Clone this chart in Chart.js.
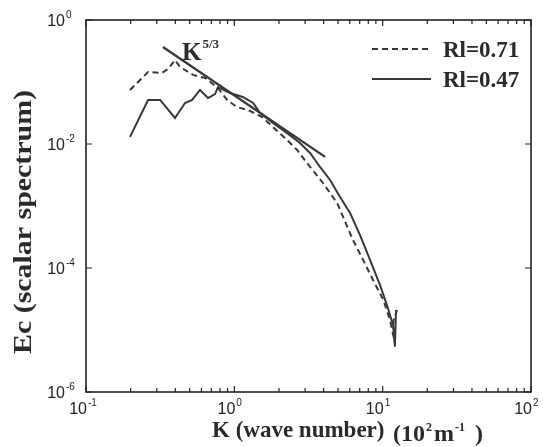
<!DOCTYPE html>
<html>
<head>
<meta charset="utf-8">
<script src="https://cdn.jsdelivr.net/npm/chart.js@4.4.1/dist/chart.umd.min.js"></script>
<style>
  html, body { margin: 0; padding: 0; background: #fff; }
  #wrap { width: 543px; height: 447px; position: relative; }
</style>
</head>
<body>
<div id="wrap"><canvas id="chart_spec"></canvas></div>
<script>
// wave number K (10^2 m^-1) and scalar spectrum Ec
const kDashed = [0.198, 0.262, 0.325, 0.357, 0.398, 0.43, 0.527, 0.635, 0.776, 0.893, 1.04, 1.24, 1.54, 1.82, 2.27, 2.65, 3.24, 3.96, 4.93, 6.31, 7.38, 8.61, 10.1, 11.2, 12.1, 11.8, 12.5];
const ecDashed = [0.0743, 0.145, 0.140, 0.162, 0.226, 0.175, 0.130, 0.116, 0.080, 0.0513, 0.0395, 0.0353, 0.0272, 0.0188, 0.0116, 0.0080, 0.00426, 0.00235, 0.00112, 2.83e-4, 1.35e-4, 6.4e-5, 3.05e-5, 1.45e-5, 6.2e-6, 1.4e-5, 2.1e-5];

const kSolid = [0.198, 0.262, 0.316, 0.398, 0.465, 0.519, 0.587, 0.665, 0.741, 0.776, 0.935, 1.14, 1.34, 1.49, 1.82, 2.27, 2.77, 3.24, 3.78, 4.42, 5.16, 6.03, 7.04, 8.22, 9.6, 10.7, 11.75, 12.1, 12.3];
const ecSolid = [0.0130, 0.0513, 0.0513, 0.0263, 0.0459, 0.0513, 0.0743, 0.0552, 0.064, 0.083, 0.0665, 0.0573, 0.0459, 0.0316, 0.0218, 0.0150, 0.0104, 0.00716, 0.00426, 0.00263, 0.0014, 7.7e-4, 3.4e-4, 1.35e-4, 5.3e-5, 2.5e-5, 1.2e-5, 5.4e-6, 2.1e-5];

// K^-5/3 reference line
const kRef = [0.33, 4.09];
const ecRef = [0.367, 0.0062];

const xTicks = [0.1, 1, 10, 100];
const xTickExp = ['-1', '0', '1', '2'];
const yTicks = [1, 1e-2, 1e-4, 1e-6];
const yTickExp = ['0', '-2', '-4', '-6'];

const seriesNames = ['Rl=0.71', 'Rl=0.47'];

const ink = '#383838';
const serif = '"Liberation Serif", "DejaVu Serif", serif';
const sans = '"Liberation Sans", Arial, sans-serif';

function pts(xs, ys) {
  return xs.map((x, i) => ({ x: x, y: ys[i] }));
}

function supText(ctx, base, exp, x, y, size, expSize, rise, align) {
  ctx.font = size;
  const wb = ctx.measureText(base).width;
  ctx.font = expSize;
  const we = ctx.measureText(exp).width;
  let x0 = x;
  if (align === 'right-base') x0 = x - wb;
  ctx.textAlign = 'left';
  ctx.textBaseline = 'alphabetic';
  ctx.font = size;
  ctx.fillText(base, x0, y);
  ctx.font = expSize;
  ctx.fillText(exp, x0 + wb + 1, y - rise);
  return x0 + wb + 1 + we;
}

const decorations = {
  id: 'decorations',
  afterDraw(chart) {
    const { ctx, chartArea: a, scales } = chart;
    const xs = scales.x, ys = scales.y;
    ctx.save();
    ctx.strokeStyle = '#222';
    ctx.fillStyle = '#222';

    // frame
    ctx.lineWidth = 1.6;
    ctx.strokeRect(a.left, a.top, a.right - a.left, a.bottom - a.top);

    // x ticks (inward, top and bottom)
    ctx.lineWidth = 1.2;
    for (let d = -1; d < 2; d++) {
      for (let m = 1; m <= 10; m++) {
        const v = m * Math.pow(10, d);
        if (m === 1 && d > -1) continue;
        const px = xs.getPixelForValue(v);
        const len = (m === 1 || m === 10) ? 6 : 4;
        ctx.beginPath();
        ctx.moveTo(px, a.bottom); ctx.lineTo(px, a.bottom - len);
        ctx.moveTo(px, a.top); ctx.lineTo(px, a.top + len);
        ctx.stroke();
      }
    }
    // y ticks (major only)
    yTicks.forEach(v => {
      const py = ys.getPixelForValue(v);
      ctx.beginPath();
      ctx.moveTo(a.left, py); ctx.lineTo(a.left + 6, py);
      ctx.moveTo(a.right, py); ctx.lineTo(a.right - 6, py);
      ctx.stroke();
    });

    // tick labels
    xTicks.forEach((v, i) => {
      const px = xs.getPixelForValue(v);
      supText(ctx, '10', xTickExp[i], px + 1, a.bottom + 22, '16px ' + sans, '10px ' + sans, 8, 'right-base');
    });
    yTicks.forEach((v, i) => {
      const py = ys.getPixelForValue(v);
      supText(ctx, '10', yTickExp[i], 65, py + 6, '16px ' + sans, '10px ' + sans, 8, 'right-base');
    });

    // axis titles
    ctx.fillStyle = '#2a2a2a';
    ctx.font = 'bold 23px ' + serif;
    ctx.textAlign = 'left';
    ctx.textBaseline = 'alphabetic';
    ctx.fillText('K (wave number)', 212, 437);
    let cx = supText(ctx, '(10', '2', 393, 441, 'bold 24px ' + serif, 'bold 12px ' + serif, 10, 'left');
    cx = supText(ctx, 'm', '-1', cx + 2, 441, 'bold 24px ' + serif, 'bold 12px ' + serif, 10, 'left');
    ctx.font = 'bold 24px ' + serif;
    ctx.fillText(')', cx + 10, 441);

    ctx.save();
    ctx.translate(31, 222);
    ctx.rotate(-Math.PI / 2);
    ctx.scale(1.15, 1);
    ctx.font = 'bold 26px ' + serif;
    ctx.textAlign = 'center';
    ctx.fillText('Ec (scalar spectrum)', 0, 0);
    ctx.restore();

    // K^-5/3 annotation near the reference line
    supText(ctx, 'K', '5/3', 182, 60, 'bold 25px ' + serif, 'bold 13px ' + serif, 12, 'left');

    // legend
    ctx.strokeStyle = ink;
    ctx.lineWidth = 2;
    ctx.setLineDash([6, 4]);
    ctx.beginPath(); ctx.moveTo(372, 49); ctx.lineTo(431, 49); ctx.stroke();
    ctx.setLineDash([]);
    ctx.beginPath(); ctx.moveTo(372, 79); ctx.lineTo(431, 79); ctx.stroke();
    ctx.font = 'bold 23px ' + serif;
    ctx.textAlign = 'left';
    ctx.fillStyle = '#2a2a2a';
    ctx.fillText(seriesNames[0], 443, 57);
    ctx.fillText(seriesNames[1], 443, 87);

    ctx.restore();
  }
};

new Chart(document.getElementById('chart_spec'), {
  type: 'line',
  data: {
    datasets: [
      {
        label: 'K^-5/3',
        data: pts(kRef, ecRef),
        borderColor: ink,
        borderWidth: 2.4,
        pointRadius: 0,
      },
      {
        label: seriesNames[1],
        data: pts(kSolid, ecSolid),
        borderColor: ink,
        borderWidth: 2,
        pointRadius: 0,
      },
      {
        label: seriesNames[0],
        data: pts(kDashed, ecDashed),
        borderColor: ink,
        borderWidth: 2,
        borderDash: [6, 4],
        pointRadius: 0,
      },
    ],
  },
  options: {
    responsive: true,
    maintainAspectRatio: false,
    animation: false,
    layout: { padding: { top: 20, right: 12, left: 0, bottom: 0 } },
    elements: { line: { tension: 0, fill: false } },
    scales: {
      x: {
        type: 'logarithmic',
        min: 0.1,
        max: 100,
        afterBuildTicks: (s) => { s.ticks = xTicks.map(v => ({ value: v })); },
        afterFit: (s) => { s.height = 55; },
        ticks: { display: false },
        grid: { display: false },
        border: { display: false },
      },
      y: {
        type: 'logarithmic',
        min: 1e-6,
        max: 1,
        afterBuildTicks: (s) => { s.ticks = yTicks.map(v => ({ value: v })); },
        afterFit: (s) => { s.width = 86; },
        ticks: { display: false },
        grid: { display: false },
        border: { display: false },
      },
    },
    plugins: {
      legend: { display: false },
      tooltip: { enabled: false },
    },
  },
  plugins: [decorations],
});
</script>
</body>
</html>
